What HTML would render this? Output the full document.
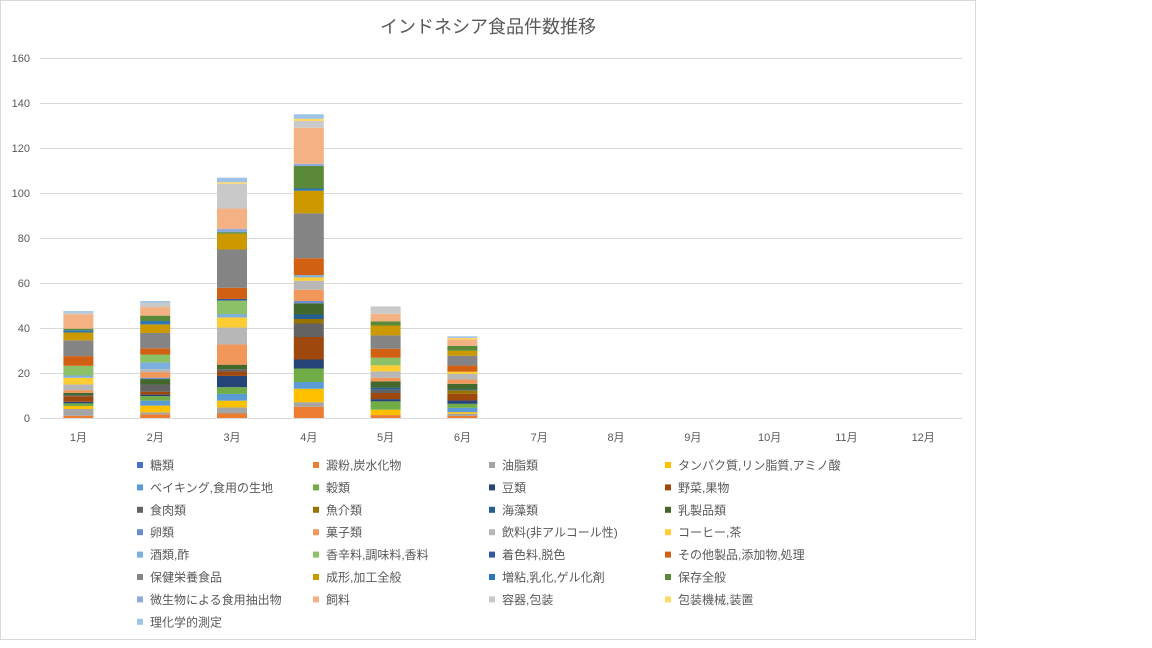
<!DOCTYPE html>
<html><head><meta charset="utf-8">
<style>
body{margin:0;background:#fff;width:1152px;height:648px;overflow:hidden;font-family:"Liberation Sans","Noto Sans CJK JP",sans-serif;}
#c{position:absolute;left:0;top:0;}
</style></head><body>
<svg id="c" width="1152" height="648" xmlns="http://www.w3.org/2000/svg" font-family="Liberation Sans, Noto Sans CJK JP, sans-serif">
<rect x="0.5" y="0.5" width="975" height="639" fill="#fff" stroke="#d9d9d9"/>
<text x="488" y="33" font-size="18" fill="#595959" text-anchor="middle">インドネシア食品件数推移</text>
<g id="grid" stroke="#d9d9d9" stroke-width="1"></g>
<g id="ylab" font-size="11" fill="#595959" text-anchor="end"></g>
<g id="bars"></g>
<g id="xlab" font-size="11" fill="#595959" text-anchor="middle"></g>
<g id="leg" font-size="12" fill="#595959"></g>
</svg>
<script>
var ns="http://www.w3.org/2000/svg";
function el(p,t,a,txt){var e=document.createElementNS(ns,t);for(var k in a)e.setAttribute(k,a[k]);if(txt)e.textContent=txt;document.getElementById(p).appendChild(e);}
for(var i=0;i<=8;i++){var y=418-i*45;el('grid','line',{x1:40,x2:962,y1:y+0.5,y2:y+0.5});el('ylab','text',{x:30,y:y+4},String(i*20));}
var names=["糖類","澱粉,炭水化物","油脂類","タンパク質,リン脂質,アミノ酸","ベイキング,食用の生地","穀類","豆類","野菜,果物","食肉類","魚介類","海藻類","乳製品類","卵類","菓子類","飲料(非アルコール性)","コーヒー,茶","酒類,酢","香辛料,調味料,香料","着色料,脱色","その他製品,添加物,処理","保健栄養食品","成形,加工全般","増粘,乳化,ゲル化剤","保存全般","微生物による食用抽出物","飼料","容器,包装","包装機械,装置","理化学的測定"];
var cols=["#4472C4","#ED7D31","#A5A5A5","#FFC000","#5B9BD5","#70AD47","#264478","#9E480E","#636363","#997300","#255E91","#43682B","#698ED0","#F1975A","#B7B7B7","#FFCD33","#7CAFDD","#8CC168","#335AA1","#D26012","#848484","#CC9A00","#2E75B6","#5A8A39","#8FAADC","#F4B183","#C9C9C9","#FFD966","#9DC3E6"];
// values indexed by series
function v(o){var a=new Array(29).fill(0);for(var k in o)a[k]=o[k];return a;}
var data=[
v({1:1,2:3,3:1.3,5:1.2,6:0.7,7:2.5,8:0.5,11:1,13:1.2,14:2.5,15:3,16:1,17:4.3,19:4.3,20:7,21:3.5,22:1,23:0.7,25:6.4,26:0.7,28:0.7}),
v({1:1.6,2:0.9,3:3,4:2.2,5:2,6:0.7,7:1.3,8:3.2,11:2.4,12:0.6,13:2.5,14:1.3,16:3,17:3.5,19:2.8,20:6.8,21:3.8,22:1.5,23:2.4,25:3.8,26:2,28:0.7}),
v({1:2,2:2.7,3:3,4:3,5:3,6:5,7:2,8:1,11:2,13:9,14:7.5,15:4.5,16:1.5,17:6,18:0.7,19:5,20:17,21:7,23:0.7,24:1.5,25:9,26:11,27:0.7,28:2}),
v({1:5,2:2,3:6,4:3,5:6,6:4,7:10,8:6,9:2,10:2,11:5,12:1,13:5,14:4,15:1.5,16:1,19:7.5,20:20,21:10,22:1,23:10,24:1,25:16,26:3,27:1,28:2}),
v({1:1.3,3:2.4,5:3.7,6:1,7:2.7,8:1.5,10:0.9,11:2.8,13:1.6,14:2.8,15:2.7,17:3.4,19:4,20:5.9,21:4.4,23:1.8,25:3.4,26:3.3}),
v({1:0.9,2:1,3:0.7,4:1.9,5:1.8,6:1.5,7:3,9:1.5,10:0.4,11:2.5,13:1.9,14:2.5,15:1,19:2.7,20:4.4,21:2.2,23:2.2,25:2.8,27:0.7,28:0.7})];
for(var m=0;m<12;m++){var cx=78.4+76.8*m;el('xlab','text',{x:cx,y:441},(m+1)+"月");
 if(m<6){var y=418;for(var s=0;s<29;s++){var h=data[m][s]*2.25;if(h>0){y-=h;el('bars','rect',{x:cx-15,y:y,width:30,height:h,fill:cols[s]});}}}}
var lx=[140,316,492,668];
for(var s=0;s<29;s++){var c=s%4,r=Math.floor(s/4);var y=465+r*22.4;
 el('leg','rect',{x:lx[c]-3,y:y-3,width:6,height:6,fill:cols[s]});
 el('leg','text',{x:lx[c]+10,y:y+4.5},names[s]);}
</script>
</body></html>
